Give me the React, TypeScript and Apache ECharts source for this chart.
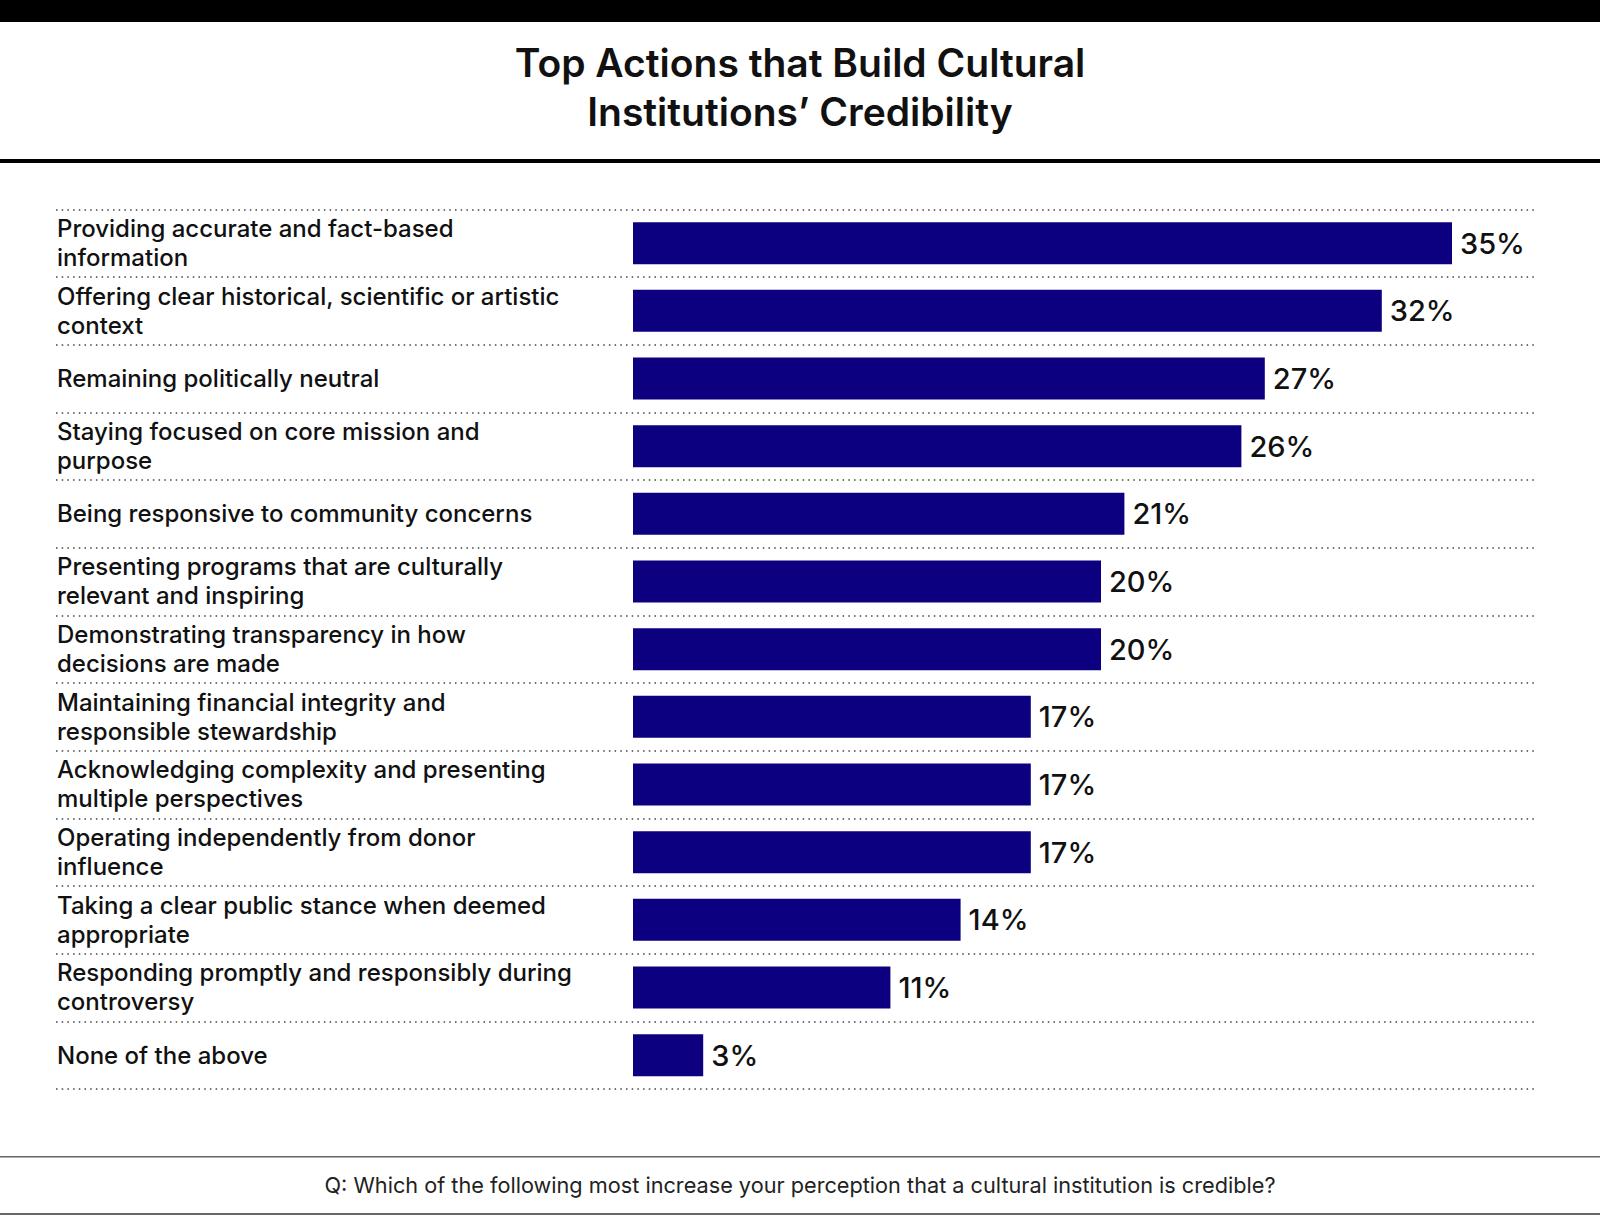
import React, { useEffect, useRef } from "react";
import * as echarts from "echarts";

const categories: string[] = [
  "Providing accurate and fact-based\ninformation",
  "Offering clear historical, scientific or artistic\ncontext",
  "Remaining politically neutral",
  "Staying focused on core mission and\npurpose",
  "Being responsive to community concerns",
  "Presenting programs that are culturally\nrelevant and inspiring",
  "Demonstrating transparency in how\ndecisions are made",
  "Maintaining financial integrity and\nresponsible stewardship",
  "Acknowledging complexity and presenting\nmultiple perspectives",
  "Operating independently from donor\ninfluence",
  "Taking a clear public stance when deemed\nappropriate",
  "Responding promptly and responsibly during\ncontroversy",
  "None of the above",
];

const values: number[] = [35, 32, 27, 26, 21, 20, 20, 17, 17, 17, 14, 11, 3];

const titleText = "Top Actions that Build Cultural\nInstitutions\u2019 Credibility";
const footerText =
  "Q: Which of the following most increase your perception that a cultural institution is credible?";

const FONT = "Inter, 'Noto Sans', sans-serif";

export default function App() {
  const ref = useRef<HTMLDivElement>(null);
  useEffect(() => {
    document.body.style.margin = "0";
    if (!ref.current) return;
    const chart = echarts.init(ref.current, undefined, { renderer: "svg" });
    const gridLeft = 56;
    const gridRight = 1534;
    const zeroX = 633;
    const pxPerUnit = 23.4;
    const xMin = -(zeroX - gridLeft) / pxPerUnit;
    const xMax = (gridRight - zeroX) / pxPerUnit;
    chart.setOption({
      animation: false,
      backgroundColor: "#ffffff",
      textStyle: { fontFamily: FONT },
      grid: {
        left: gridLeft,
        right: 1600 - gridRight,
        top: 209.3,
        height: 879.7,
        containLabel: false,
      },
      xAxis: {
        type: "value",
        min: xMin,
        max: xMax,
        show: false,
        splitLine: { show: false },
      },
      yAxis: {
        type: "category",
        data: categories,
        inverse: true,
        axisLine: { show: false },
        axisTick: { show: false },
        splitLine: {
          show: true,
          lineStyle: { color: "#444", width: 1.5, type: [1.5, 4.2] },
        },
        axisLabel: {
          inside: true,
          margin: 1,
          align: "left",
          verticalAlign: "middle",
          fontFamily: FONT,
          fontSize: 24,
          fontWeight: 500,
          color: "#111",
          lineHeight: 29,
          padding: [0, 0, 6, 0],
        },
      },
      series: [
        {
          type: "bar",
          data: values,
          barWidth: 42,
          itemStyle: { color: "#0c0080" },
          label: {
            show: true,
            position: "right",
            distance: 8,
            formatter: "{c}%",
            fontFamily: FONT,
            fontSize: 29,
            fontWeight: 500,
            color: "#111",
          },
        },
      ],
      graphic: [
        { type: "rect", shape: { x: 0, y: 0, width: 1600, height: 22 }, style: { fill: "#000" } },
        { type: "rect", shape: { x: 0, y: 159, width: 1600, height: 4 }, style: { fill: "#000" } },
        {
          type: "text",
          x: 800,
          y: 87,
          style: {
            text: titleText,
            fontFamily: FONT,
            fontSize: 39,
            fontWeight: 600,
            fill: "#111",
            align: "center",
            verticalAlign: "middle",
            lineHeight: 49,
          },
        },
        { type: "rect", shape: { x: 0, y: 1156, width: 1600, height: 1.5 }, style: { fill: "#666" } },
        { type: "rect", shape: { x: 0, y: 1213, width: 1600, height: 2 }, style: { fill: "#666" } },
        {
          type: "text",
          x: 800,
          y: 1185,
          style: {
            text: footerText,
            fontFamily: FONT,
            fontSize: 21.7,
            fontWeight: 400,
            fill: "#222",
            align: "center",
            verticalAlign: "middle",
          },
        },
      ],
    });
    return () => chart.dispose();
  }, []);
  return <div ref={ref} style={{ width: 1600, height: 1215 }} />;
}
